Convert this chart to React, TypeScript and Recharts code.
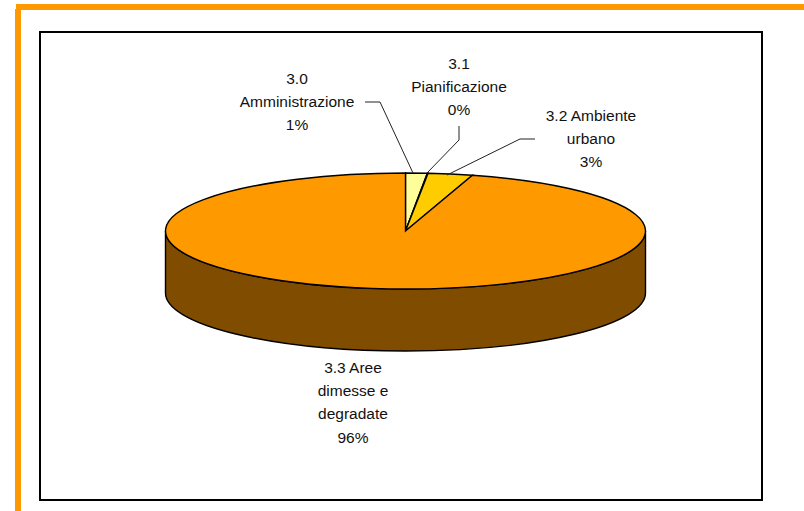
import React from 'react';
import { PieChart, Pie, Cell } from 'recharts';

const categories = ['3.0 Amministrazione', '3.1 Pianificazione', '3.2 Ambiente urbano', '3.3 Aree dimesse e degradate'];
const values = [1.45, 0.05, 3.0, 95.5];
const colors = ['#FFFF99', '#FFCC99', '#FFCC00', '#FF9900'];
const wrappedNames = [
  ['3.0', 'Amministrazione'],
  ['3.1', 'Pianificazione'],
  ['3.2 Ambiente', 'urbano'],
  ['3.3 Aree', 'dimesse e', 'degradate'],
];

// where the labels and their leader lines sit in the picture
const labelAnchors = [
  { x: 297, y: 84 },
  { x: 459, y: 69 },
  { x: 591, y: 121 },
  { x: 353, y: 373 },
];
const leaderLines = [
  'M365 102 H380 L413 173',
  'M459 126 V140 L427 173',
  'M535 139 H520 L447 175',
  '',
];

const WIDTH = 804;
const HEIGHT = 511;
const CX = 405.5;
const CY = 231;
const RADIUS = 240;
const SQUASH = 58 / 240;
const DEPTH = 62;
const LINE_HEIGHT = 23.2;
const WALL_COLOR = '#804D00';

const data = categories.map((name, i) => ({ name, value: values[i] }));

const point = (angle: number, dy = 0) => {
  const rad = (angle * Math.PI) / 180;
  return `${CX + RADIUS * Math.cos(rad)} ${CY + dy - RADIUS * SQUASH * Math.sin(rad)}`;
};

// Pie only knows circles, so each sector is drawn flattened with its own bit of wall
const FlatSector = (props: any) => {
  const { startAngle, endAngle, fill } = props;
  const rx = RADIUS;
  const ry = RADIUS * SQUASH;
  const large = Math.abs(startAngle - endAngle) > 180 ? 1 : 0;
  const from = Math.min(startAngle, 0);
  const to = Math.max(endAngle, -180);
  return (
    <g>
      {from > to && (
        <path
          d={`M${point(from)} A${rx} ${ry} 0 0 1 ${point(to)} L${point(to, DEPTH)} A${rx} ${ry} 0 0 0 ${point(from, DEPTH)} Z`}
          fill={WALL_COLOR}
          stroke="#000"
          strokeWidth={1.4}
        />
      )}
      <path
        d={`M${CX} ${CY} L${point(startAngle)} A${rx} ${ry} 0 ${large} 1 ${point(endAngle)} Z`}
        fill={fill}
        stroke="#000"
        strokeWidth={1.4}
      />
    </g>
  );
};

const renderLabel = (props: any) => {
  const { index, percent } = props;
  const anchor = labelAnchors[index];
  const lines = [...wrappedNames[index], `${Math.round(percent * 100)}%`];
  return (
    <text x={anchor.x} y={anchor.y} textAnchor="middle" fontFamily="Liberation Sans" fontSize={15.5} fill="#111">
      {lines.map((line, i) => (
        <tspan key={i} x={anchor.x} dy={i === 0 ? 0 : LINE_HEIGHT}>
          {line}
        </tspan>
      ))}
    </text>
  );
};

const renderLeader = (props: any) => {
  const d = leaderLines[props.index];
  return d ? <path d={d} fill="none" stroke="#222" strokeWidth={1} /> : <g />;
};

const box = (left: number, top: number, width: number, height: number, background: string): React.CSSProperties => ({
  position: 'absolute',
  left,
  top,
  width,
  height,
  background,
});

export default function App() {
  return (
    <div style={{ position: 'absolute', left: 0, top: 0, width: WIDTH, height: HEIGHT, overflow: 'hidden', background: '#fff' }}>
      <div style={box(16, 4, 788, 6, '#FF9900')} />
      <div style={box(15, 9, 6, 502, '#FF9900')} />
      <div style={{ ...box(39, 31, 720, 466, 'transparent'), border: '2px solid #000' }} />
      <div style={{ position: 'absolute', left: 0, top: 0 }}>
        <PieChart width={WIDTH} height={HEIGHT} margin={{ top: 0, right: 0, bottom: 0, left: 0 }}>
          <Pie
            data={data}
            dataKey="value"
            nameKey="name"
            cx={CX}
            cy={CY}
            innerRadius={0}
            outerRadius={RADIUS}
            startAngle={90}
            endAngle={-270}
            paddingAngle={0}
            minAngle={0}
            shape={FlatSector}
            label={renderLabel}
            labelLine={renderLeader}
            isAnimationActive={false}
          >
            {data.map((entry, i) => (
              <Cell key={`cell-${i}`} fill={colors[i]} />
            ))}
          </Pie>
        </PieChart>
      </div>
    </div>
  );
}
